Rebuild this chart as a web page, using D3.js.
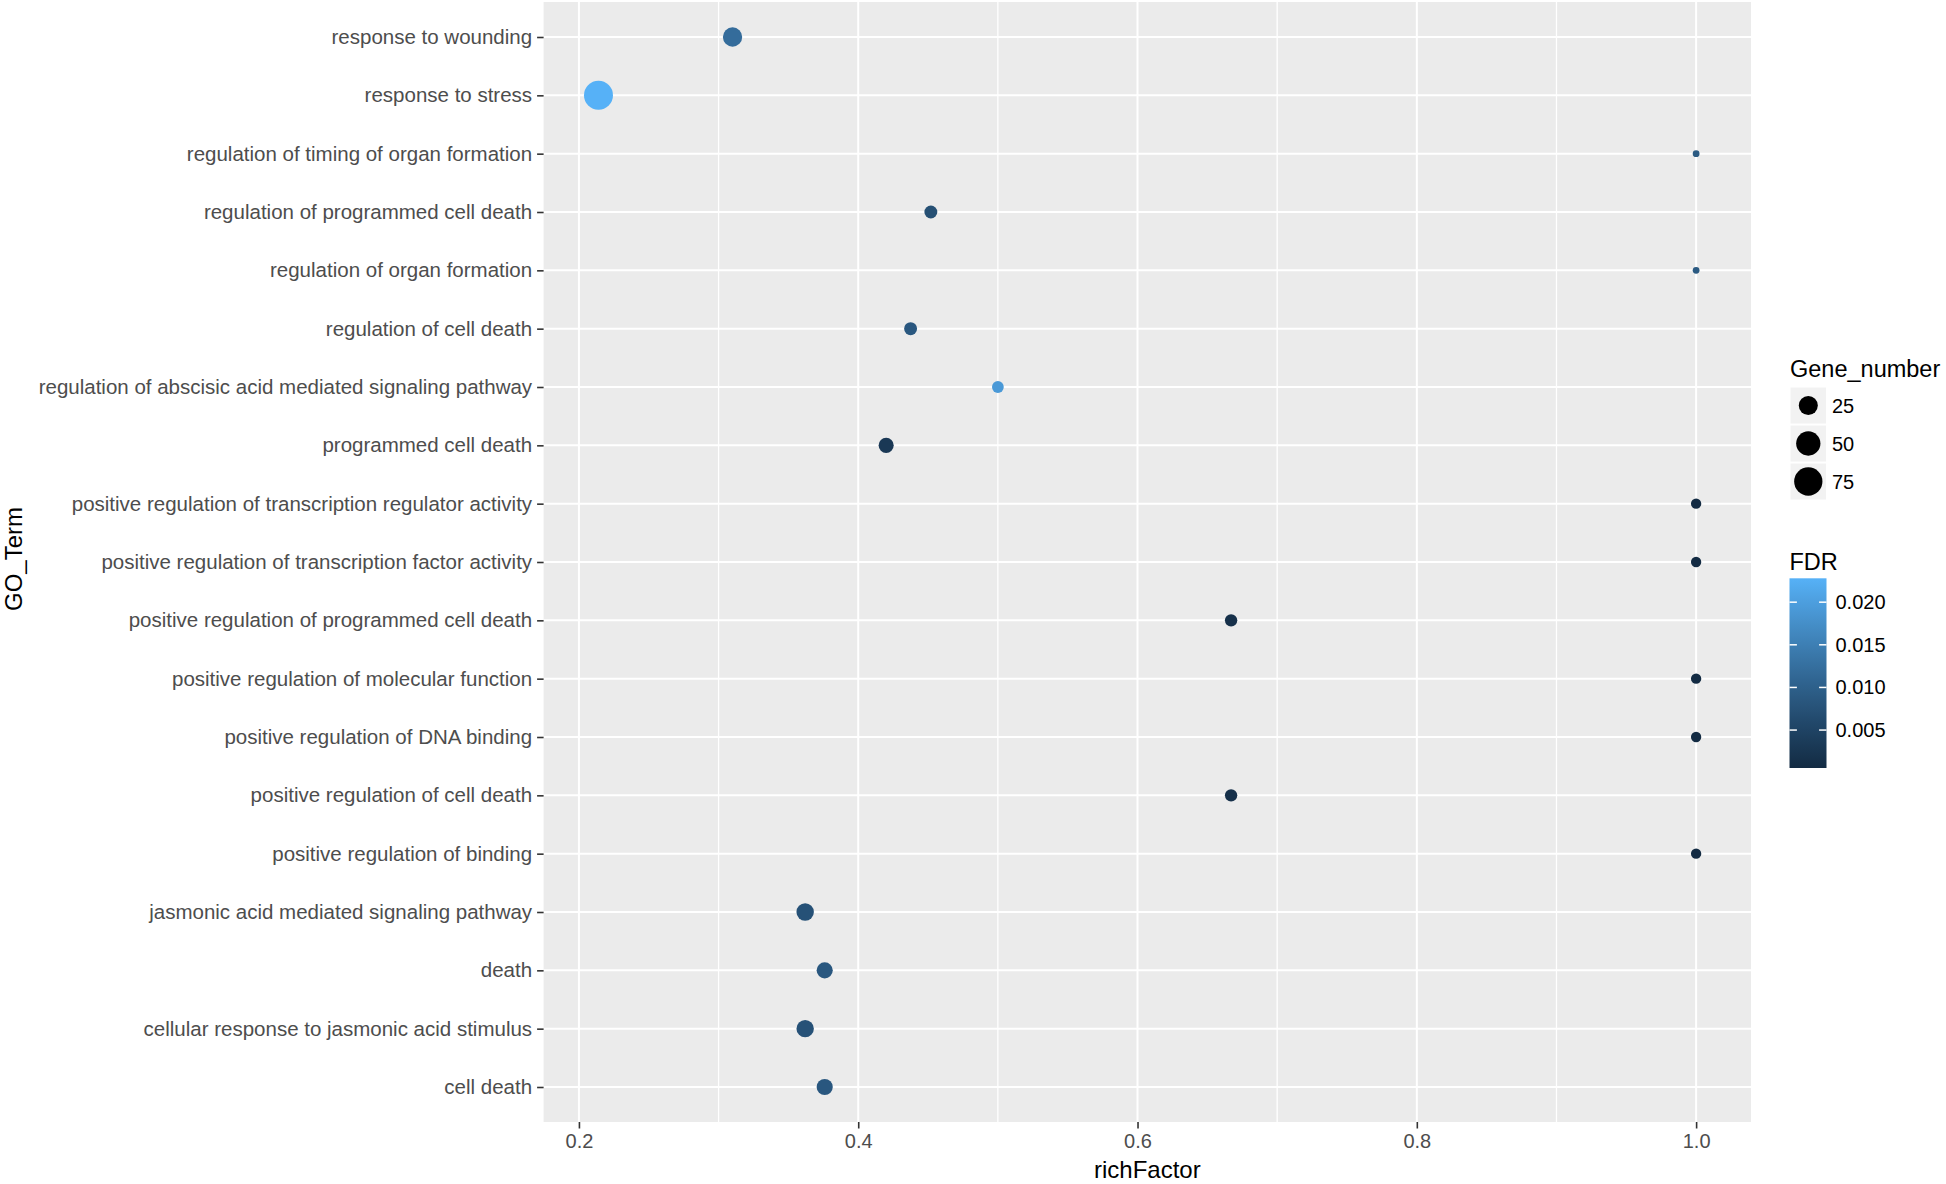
<html>
  <head>
    <meta charset="utf-8">
    <title>GO enrichment</title>
    <style>
      body { margin: 0; background: #fff; }
      text { font-family: "Liberation Sans", Arial, sans-serif; }
      .axis path { display: none; }
      .axis line { stroke: #333333; stroke-width: 1.6; }
      .axis text { font-size: 20px; fill: #4D4D4D; }
      .axis.yax text { font-size: 20.5px; }
    </style>
  </head>
  <body>
    <script src="https://cdn.jsdelivr.net/npm/d3@7/dist/d3.min.js"></script>
    <script>
    // terms from top to bottom
    var terms = [
      "response to wounding",
      "response to stress",
      "regulation of timing of organ formation",
      "regulation of programmed cell death",
      "regulation of organ formation",
      "regulation of cell death",
      "regulation of abscisic acid mediated signaling pathway",
      "programmed cell death",
      "positive regulation of transcription regulator activity",
      "positive regulation of transcription factor activity",
      "positive regulation of programmed cell death",
      "positive regulation of molecular function",
      "positive regulation of DNA binding",
      "positive regulation of cell death",
      "positive regulation of binding",
      "jasmonic acid mediated signaling pathway",
      "death",
      "cellular response to jasmonic acid stimulus",
      "cell death"
    ];
    var richFactor = [0.310, 0.214, 1.0, 0.452, 1.0, 0.4375, 0.5, 0.42, 1.0, 1.0,
                      0.667, 1.0, 1.0, 0.667, 1.0, 0.362, 0.376, 0.362, 0.376];
    var geneNumber = [26, 80, 1, 7, 1, 7, 5, 12, 3, 3, 6, 3, 3, 6, 3, 19, 15, 19, 15];
    var fdr = [0.012, 0.0228, 0.009, 0.0072, 0.009, 0.0085, 0.0192, 0.003, 0.00055, 0.00055,
               0.0015, 0.00055, 0.00055, 0.0015, 0.00055, 0.0075, 0.0085, 0.0075, 0.0085];

    var xTicks = [0.2, 0.4, 0.6, 0.8, 1.0];
    var xMinor = [0.3, 0.5, 0.7, 0.9];
    var sizeBreaks = [25, 50, 75];
    var fdrBreaks = [0.005, 0.010, 0.015, 0.020];

    var width = 1946, height = 1184;
    var panel = {left: 543.6, right: 1751, top: 2, bottom: 1122};

    var svg = d3.select('body').append('svg')
      .attr('width', width).attr('height', height);

    var rows = terms.map(function(t, i) {
      return {term: t, rf: richFactor[i], n: geneNumber[i], fdr: fdr[i]};
    });

    // ggplot-like 5% expansion
    var ext = d3.extent(richFactor);
    var pad = (ext[1] - ext[0]) * 0.05;
    var x = d3.scaleLinear()
      .domain([ext[0] - pad, ext[1] + pad])
      .range([panel.left, panel.right]);

    var y = d3.scalePoint()
      .domain(terms)
      .range([panel.top, panel.bottom])
      .padding(0.6);

    var color = d3.scaleLinear()
      .domain(d3.extent(fdr))
      .range(["#132B43", "#56B1F7"])
      .interpolate(d3.interpolateLab);

    var sizeT = d3.scaleLinear().domain(d3.extent(geneNumber)).range([0, 1]).clamp(true);
    var diam = d3.scaleLinear().domain([0, 1]).range([6.8, 29]);
    function radius(v) { return diam(Math.sqrt(sizeT(v))) / 2; }

    // panel background + grid
    svg.append('rect')
      .attr('x', panel.left).attr('y', panel.top)
      .attr('width', panel.right - panel.left).attr('height', panel.bottom - panel.top)
      .attr('fill', '#EBEBEB');

    var grid = svg.append('g');
    grid.selectAll('.minor').data(xMinor).enter().append('line')
      .attr('x1', d => x(d)).attr('x2', d => x(d))
      .attr('y1', panel.top).attr('y2', panel.bottom)
      .attr('stroke', '#fff').attr('stroke-width', 1.3);
    grid.selectAll('.majx').data(xTicks).enter().append('line')
      .attr('x1', d => x(d)).attr('x2', d => x(d))
      .attr('y1', panel.top).attr('y2', panel.bottom)
      .attr('stroke', '#fff').attr('stroke-width', 2);
    grid.selectAll('.majy').data(terms).enter().append('line')
      .attr('x1', panel.left).attr('x2', panel.right)
      .attr('y1', d => y(d)).attr('y2', d => y(d))
      .attr('stroke', '#fff').attr('stroke-width', 2);

    // points
    svg.append('g').selectAll('circle')
      .data(rows).enter().append('circle')
      .attr('cx', d => x(d.rf))
      .attr('cy', d => y(d.term))
      .attr('r', d => radius(d.n))
      .attr('fill', d => color(d.fdr));

    // axes
    var xAxis = d3.axisBottom(x).tickValues(xTicks).tickFormat(d3.format('.1f'))
      .tickSize(6.5).tickPadding(5);
    svg.append('g').attr('class', 'axis')
      .attr('transform', 'translate(0,' + panel.bottom + ')')
      .call(xAxis)
      .selectAll('text').attr('dy', '0.71em');

    var yAxis = d3.axisLeft(y).tickSize(6.5).tickPadding(5);
    svg.append('g').attr('class', 'axis yax')
      .attr('transform', 'translate(' + panel.left + ',0)')
      .call(yAxis);

    // axis titles
    svg.append('text')
      .attr('x', (panel.left + panel.right) / 2).attr('y', 1178)
      .attr('text-anchor', 'middle').attr('font-size', 24).attr('fill', '#000')
      .text('richFactor');
    svg.append('text')
      .attr('transform', 'translate(22,' + ((panel.top + panel.bottom) / 2 - 3) + ') rotate(-90)')
      .attr('text-anchor', 'middle').attr('font-size', 24).attr('fill', '#000')
      .text('GO_Term');

    // size legend
    var lg = svg.append('g').attr('transform', 'translate(1790,0)');
    lg.append('text').attr('x', 0).attr('y', 377)
      .attr('font-size', 23.5).attr('fill', '#000').text('Gene_number');
    var key = lg.selectAll('.key').data(sizeBreaks).enter().append('g')
      .attr('transform', (d, i) => 'translate(0,' + (387 + i * 38) + ')');
    key.append('rect').attr('width', 36.5).attr('height', 37)
      .attr('fill', '#F2F2F2').attr('stroke', '#fff').attr('stroke-width', 1);
    key.append('circle').attr('cx', 18.3).attr('cy', 18.5)
      .attr('r', d => radius(d)).attr('fill', '#000');
    key.append('text').attr('x', 42).attr('y', 18.5).attr('dy', '0.35em')
      .attr('font-size', 20).attr('fill', '#000').text(d => d);

    // colour bar
    var cb = svg.append('g').attr('transform', 'translate(1789.5,0)');
    cb.append('text').attr('x', 0).attr('y', 570)
      .attr('font-size', 23.5).attr('fill', '#000').text('FDR');
    var barTop = 578.3, barBottom = 768, barW = 37;
    var fy = d3.scaleLinear().domain(d3.extent(fdr)).range([barBottom, barTop]);
    var grad = svg.append('defs').append('linearGradient')
      .attr('id', 'fdrGrad').attr('x1', 0).attr('y1', 1).attr('x2', 0).attr('y2', 0);
    d3.range(0, 1.0001, 0.05).forEach(function(t) {
      grad.append('stop').attr('offset', t)
        .attr('stop-color', color(fy.invert(barBottom - t * (barBottom - barTop))));
    });
    cb.append('rect').attr('x', 0).attr('y', barTop)
      .attr('width', barW).attr('height', barBottom - barTop)
      .attr('fill', 'url(#fdrGrad)');
    var ct = cb.selectAll('.cbt').data(fdrBreaks).enter().append('g')
      .attr('transform', d => 'translate(0,' + fy(d) + ')');
    ct.append('line').attr('x1', 0).attr('x2', 7.4)
      .attr('stroke', '#fff').attr('stroke-width', 1.5);
    ct.append('line').attr('x1', barW - 7.4).attr('x2', barW)
      .attr('stroke', '#fff').attr('stroke-width', 1.5);
    ct.append('text').attr('x', 46).attr('dy', '0.35em')
      .attr('font-size', 20).attr('fill', '#000').text(d => d3.format('.3f')(d));
    </script>
  </body>
</html>
